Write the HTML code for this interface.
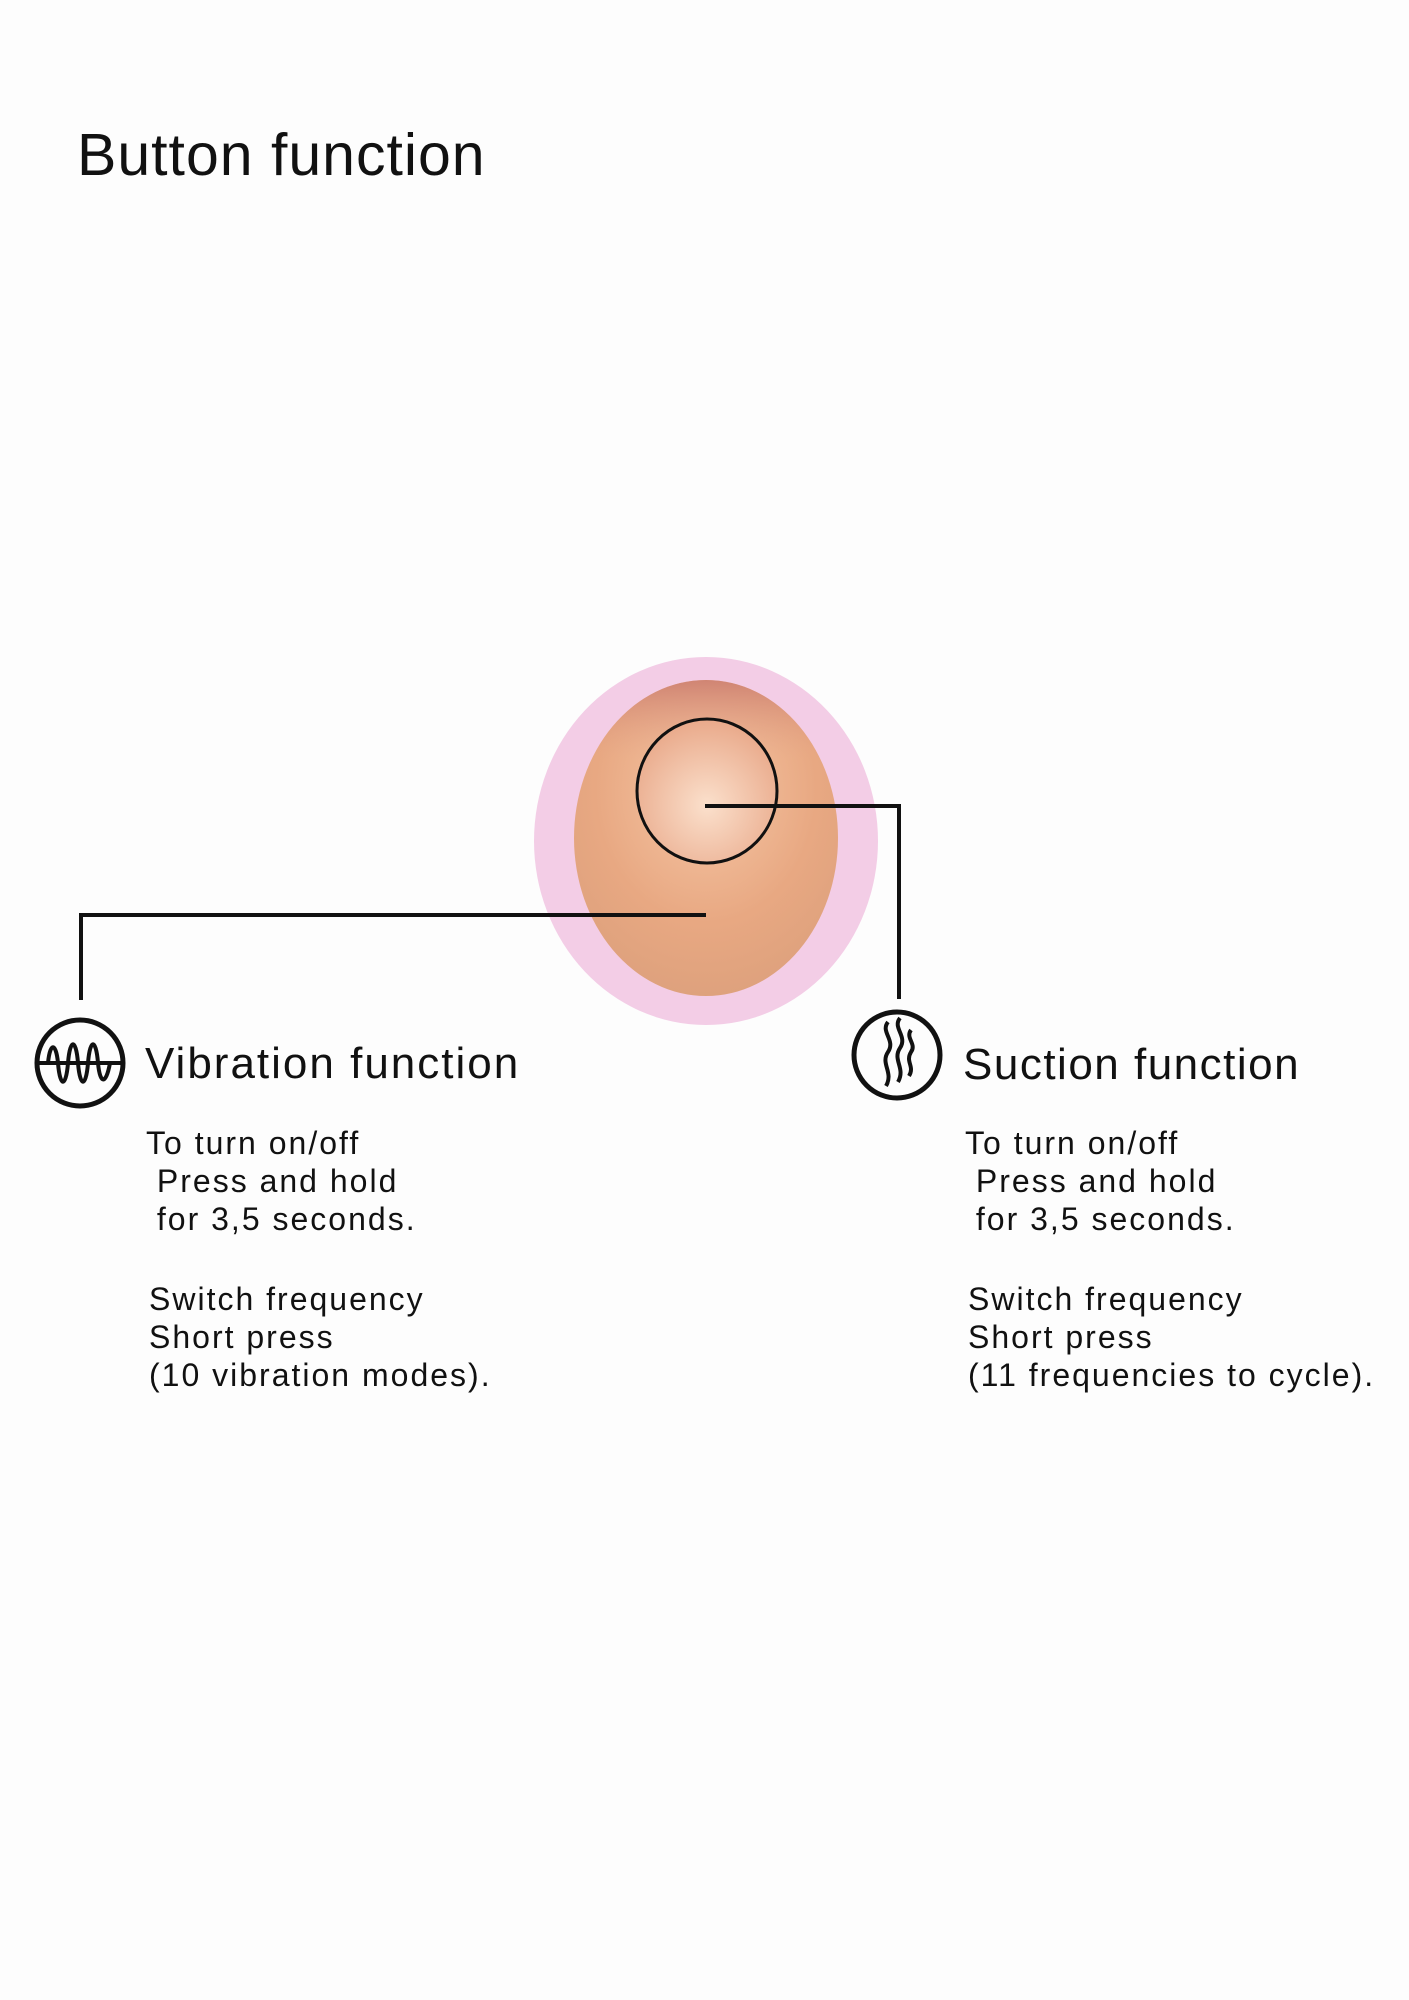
<!DOCTYPE html>
<html><head><meta charset="utf-8"><style>
html,body{margin:0;padding:0;background:#fdfdfd;}
body{width:1409px;height:2000px;position:relative;overflow:hidden;font-family:"Liberation Sans",sans-serif;color:#111;}
.t{position:absolute;white-space:nowrap;}
.body{font-size:32px;line-height:38px;letter-spacing:2px;}
</style></head><body>
<svg width="1409" height="2000" style="position:absolute;left:0;top:0">
<defs>
<radialGradient id="g" cx="0.5" cy="0.35" r="0.7">
<stop offset="0" stop-color="#f6c7a6"/>
<stop offset="0.6" stop-color="#e8a882"/>
<stop offset="1" stop-color="#dca07c"/>
</radialGradient>
<linearGradient id="top" x1="0" y1="0" x2="0" y2="1">
<stop offset="0" stop-color="#c97a6e" stop-opacity="0.8"/>
<stop offset="0.25" stop-color="#e3a489" stop-opacity="0"/>
</linearGradient>
<radialGradient id="c" cx="0.5" cy="0.6" r="0.6">
<stop offset="0" stop-color="#fbe0cc"/>
<stop offset="1" stop-color="#e9a98a"/>
</radialGradient>
</defs>
<ellipse cx="706" cy="841" rx="172" ry="184" fill="#f3cde6"/>
<ellipse cx="706" cy="838" rx="132" ry="158" fill="url(#g)"/>
<ellipse cx="706" cy="838" rx="132" ry="158" fill="url(#top)"/>
<ellipse cx="707" cy="791" rx="70" ry="72" fill="url(#c)" stroke="#111" stroke-width="3"/>
<polyline points="705,806 899,806 899,999" fill="none" stroke="#111" stroke-width="4"/>
<polyline points="706,915 81,915 81,1000" fill="none" stroke="#111" stroke-width="4"/>
<circle cx="80" cy="1063" r="43" fill="none" stroke="#111" stroke-width="5"/>
<line x1="38" y1="1063" x2="122" y2="1063" stroke="#111" stroke-width="4"/>
<path d="M48,1063 C50,1042 56,1042 58,1063 C60,1088 66,1088 68,1063 C70,1038 76,1038 78,1063 C80,1088 86,1088 88,1063 C90,1038 96,1038 98,1063 C100,1085 106,1085 110,1063" fill="none" stroke="#111" stroke-width="4"/>
<circle cx="897" cy="1055" r="43" fill="none" stroke="#111" stroke-width="5"/>
<path d="M888,1022 c-8,10 8,18 0,30 c-8,12 6,20 -2,34" fill="none" stroke="#111" stroke-width="4"/>
<path d="M900,1018 c-8,10 8,18 0,30 c-8,12 6,20 -2,34" fill="none" stroke="#111" stroke-width="4"/>
<path d="M911,1030 c-6,8 6,14 0,22 c-6,10 4,14 -2,24" fill="none" stroke="#111" stroke-width="4"/>
</svg>
<div class="t" style="left:77px;top:121px;font-size:59px;letter-spacing:1px;">Button function</div>
<div class="t" style="left:145px;top:1039px;font-size:44px;letter-spacing:2px;">Vibration function</div>
<div class="t" style="left:963px;top:1040px;font-size:44px;letter-spacing:1.5px;">Suction function</div>
<div class="t body" style="left:146px;top:1124px;">To turn on/off<br>&nbsp;Press and hold<br>&nbsp;for 3,5 seconds.</div>
<div class="t body" style="left:149px;top:1280px;">Switch frequency<br>Short press<br>(10 vibration modes).</div>
<div class="t body" style="left:965px;top:1124px;">To turn on/off<br>&nbsp;Press and hold<br>&nbsp;for 3,5 seconds.</div>
<div class="t body" style="left:968px;top:1280px;">Switch frequency<br>Short press<br>(11 frequencies to cycle).</div>
</body></html>
